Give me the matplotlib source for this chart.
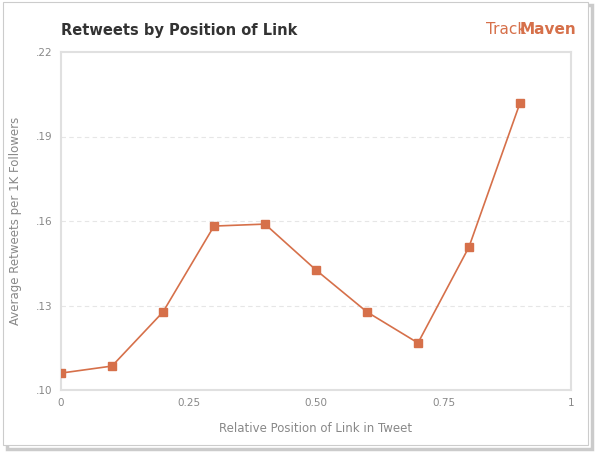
import matplotlib.pyplot as plt
from matplotlib.patches import Rectangle

# data
positions = [0, 0.1, 0.2, 0.3, 0.4, 0.5, 0.6, 0.7, 0.8, 0.9]
retweets = [0.106, 0.1085, 0.1277, 0.1582, 0.1589, 0.1426, 0.1277, 0.1167, 0.1508, 0.2019]
x_ticks = [0, 0.25, 0.5, 0.75, 1]
x_labels = ["0", "0.25", "0.50", "0.75", "1"]
y_ticks = [0.10, 0.13, 0.16, 0.19, 0.22]
y_labels = [".10", ".13", ".16", ".19", ".22"]

orange = "#d6704a"
grey = "#888888"

fig = plt.figure(figsize=(6, 4.54), dpi=100)
fig.patch.set_facecolor("white")
# card border with shadow, kept behind the axes
fig.add_artist(Rectangle((0.012, 0.012), 0.975, 0.978, transform=fig.transFigure,
                         facecolor="none", edgecolor="#999999", lw=2.5, alpha=0.5, zorder=-2))
fig.add_artist(Rectangle((0.005, 0.02), 0.975, 0.975, transform=fig.transFigure,
                         facecolor="white", edgecolor="#cccccc", lw=0.8, zorder=-1))

ax = fig.add_axes([61 / 600, 1 - 390 / 454, 510 / 600, 338 / 454])
ax.patch.set_alpha(0)
ax.plot(positions, retweets, color=orange, lw=1.2, marker="s", markersize=6, zorder=3)

ax.set_xlim(0, 1)
ax.set_ylim(0.10, 0.22)
ax.set_xticks(x_ticks)
ax.set_xticklabels(x_labels)
ax.set_yticks(y_ticks)
ax.set_yticklabels(y_labels)
ax.tick_params(length=0, labelsize=7.5, colors=grey, pad=6)
for t in y_ticks[1:-1]:
    ax.axhline(t, color="#e6e6e6", lw=0.8, ls=(0, (4, 3)), zorder=1)
for s in ax.spines.values():
    s.set_color("#e0e0e0")
    s.set_linewidth(1.5)

ax.set_xlabel("Relative Position of Link in Tweet", color=grey, fontsize=8.5, labelpad=10)
ax.set_ylabel("Average Retweets per 1K Followers", color=grey, fontsize=8.5, labelpad=10)

fig.text(61 / 600, 1 - 31 / 454, "Retweets by Position of Link", fontsize=10.5,
         fontweight="bold", color="#333333", va="center")
fig.text(486 / 600, 1 - 30 / 454, "Track", fontsize=11, color=orange, va="center")
fig.text(520 / 600, 1 - 30 / 454, "Maven", fontsize=11, color=orange, va="center",
         fontweight="bold")

fig.savefig("out.png", dpi=100)
